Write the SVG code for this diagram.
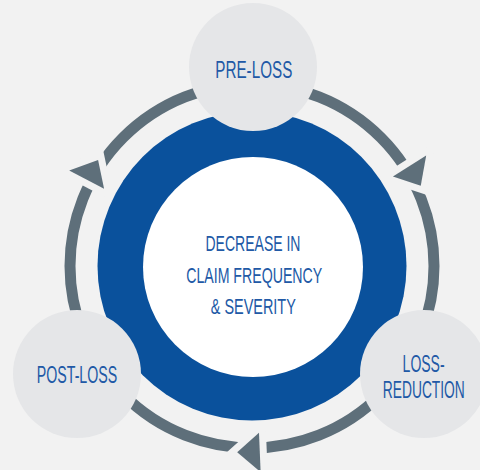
<svg xmlns="http://www.w3.org/2000/svg" width="480" height="470" viewBox="0 0 480 470">
  <defs>
    <style>
      .sat { fill: #e5e6e8; }
      .lbl { font-family: "Liberation Sans Narrow", "Liberation Sans", Arial, sans-serif; fill: #2159a6; text-anchor: middle; }
      .s23 { font-size: 23px; }
      .s22 { font-size: 22px; }
      .ring { fill: none; stroke: #5e6f7a; stroke-width: 11; }
      .arrow { fill: #5e6f7a; stroke: #f2f2f2; stroke-width: 14; stroke-linejoin: miter; stroke-miterlimit: 10; paint-order: stroke; }
    </style>
    <polygon id="arrowHead" points="418.9,266 458.3,266 437.5,288.6"/>
  </defs>
  <rect x="0" y="0" width="480" height="470" fill="#f2f2f2"/>

  <g id="connectors">
    <circle class="ring" cx="252" cy="266" r="182"/>
    <use href="#arrowHead" class="arrow" transform="rotate(-32.4 252 266)"/>
    <use href="#arrowHead" class="arrow" transform="rotate(87.6 252 266)"/>
    <use href="#arrowHead" class="arrow" transform="rotate(207.6 252 266)"/>
  </g>

  <g id="center">
    <circle cx="252" cy="266" r="154.5" fill="#0a519c"/>
    <circle cx="253" cy="267" r="110" fill="#ffffff"/>
    <text class="lbl s22" x="253" y="250.5" textLength="95" lengthAdjust="spacingAndGlyphs">DECREASE IN</text>
    <text class="lbl s22" x="254.2" y="282.5" textLength="136" lengthAdjust="spacingAndGlyphs">CLAIM FREQUENCY</text>
    <text class="lbl s22" x="253.3" y="314" textLength="85" lengthAdjust="spacingAndGlyphs">&amp; SEVERITY</text>
  </g>

  <g id="pre-loss">
    <circle class="sat" cx="253" cy="67" r="64"/>
    <text class="lbl s23" x="253.8" y="78" textLength="77" lengthAdjust="spacingAndGlyphs">PRE-LOSS</text>
  </g>

  <g id="loss-reduction">
    <circle class="sat" cx="424" cy="374" r="64"/>
    <text class="lbl s23" x="423.6" y="371.5" textLength="42" lengthAdjust="spacingAndGlyphs">LOSS-</text>
    <text class="lbl s23" x="423.8" y="398" textLength="82" lengthAdjust="spacingAndGlyphs">REDUCTION</text>
  </g>

  <g id="post-loss">
    <circle class="sat" cx="77" cy="374" r="64"/>
    <text class="lbl s23" x="77" y="382.5" textLength="80.5" lengthAdjust="spacingAndGlyphs">POST-LOSS</text>
  </g>
</svg>
